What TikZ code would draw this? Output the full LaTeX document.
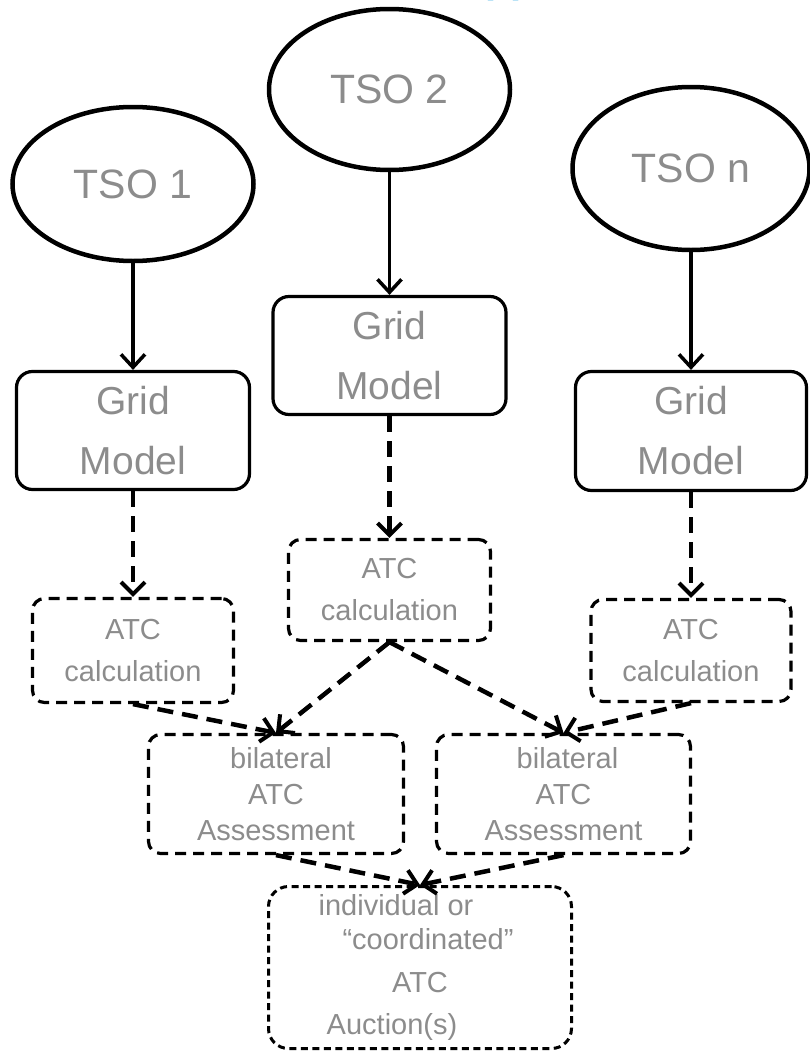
\documentclass[tikz,border=0pt]{standalone}
\usepackage{fontspec}
\setmainfont{Liberation Sans}
\usetikzlibrary{shapes.geometric,arrows.meta}
\definecolor{txtgray}{HTML}{8C8C8C}
\definecolor{titleblue}{HTML}{1BA1E2}
\begin{document}
\begin{tikzpicture}[x=1pt,y=-1pt,
  tso/.style={ellipse,draw,line width=4.5pt,inner sep=0pt,text=txtgray,
    font=\fontsize{41}{48}\selectfont},
  gridbox/.style={draw,rounded corners=16pt,line width=3.2pt,inner sep=0pt,
    text=txtgray,align=center,font=\fontsize{39}{60}\selectfont},
  atcbox/.style={draw,dash pattern=on 11pt off 7pt,rounded corners=12pt,
    line width=3.2pt,inner sep=0pt,text=txtgray,align=center,
    font=\fontsize{29}{42}\selectfont},
  bilbox/.style={atcbox,font=\fontsize{29}{36}\selectfont},
  aucbox/.style={draw,dash pattern=on 7pt off 4.5pt,rounded corners=20pt,
    line width=3pt,inner sep=0pt,text=txtgray,align=center,
    font=\fontsize{29}{34}\selectfont},
  solidarrow/.style={line width=3.5pt,
    -{Straight Barb[length=13pt,width=24pt,line width=3.5pt]}},
  dasharrow/.style={line width=4.5pt,dash pattern=on 16pt off 9pt,
    -{Straight Barb[length=12pt,width=24pt,line width=4pt]}}
]
\useasboundingbox (0,0) rectangle (810,1052);

% partly visible title
\node[anchor=base west,inner sep=0pt,text=titleblue,
  font=\fontsize{40}{48}\selectfont\bfseries] (title) at (485.5,-7) {pp};

% TSOs
\node[tso,minimum width=241pt,minimum height=154pt] (tso1) at (133,184) {TSO 1};
\node[tso,minimum width=241pt,minimum height=161pt] (tso2) at (389.5,89.5) {TSO 2};
\node[tso,minimum width=237pt,minimum height=163pt] (tson) at (691,168.5) {TSO n};

% Grid models
\node[gridbox,minimum width=233pt,minimum height=118pt] (grid1) at (133,430.5) {Grid\\Model};
\node[gridbox,minimum width=233pt,minimum height=118pt] (grid2) at (389.5,355.5) {Grid\\Model};
\node[gridbox,minimum width=231pt,minimum height=119pt] (gridn) at (691,431) {Grid\\Model};

% ATC calculations
\node[atcbox,minimum width=201pt,minimum height=104pt] (atc1) at (133,650.5) {ATC\\calculation};
\node[atcbox,minimum width=202pt,minimum height=101pt] (atc2) at (389.5,590) {ATC\\calculation};
\node[atcbox,minimum width=200pt,minimum height=102pt] (atcn) at (691,650.5) {ATC\\calculation};

% bilateral assessments
\node[bilbox,minimum width=255pt,minimum height=119pt] (bil1) at (276,794)
  {\hspace*{10pt}bilateral\\ATC\\Assessment};
\node[bilbox,minimum width=254pt,minimum height=119pt] (bil2) at (563.5,794)
  {\hspace*{8pt}bilateral\\ATC\\Assessment};

% auctions
\node[aucbox,minimum width=303pt,minimum height=162pt] (auc) at (420,967.5)
  {individual or\hspace*{48pt}\\\hspace*{16pt}“coordinated”\\[9pt]ATC\hspace*{54pt}\\[8pt]Auction(s)\hspace*{56pt}};

% connectors
\draw[solidarrow] (tso1) -- (grid1);
\draw[solidarrow] (tso2) -- (grid2);
\draw[solidarrow] (tson) -- (gridn);
\draw[dasharrow] (grid1) -- (atc1);
\draw[dasharrow] (grid2) -- (atc2);
\draw[dasharrow] (gridn) -- (atcn);
\draw[dasharrow] (atc1.south) -- (bil1.north);
\draw[dasharrow] (atc2.south) -- (bil1.north);
\draw[dasharrow] (atc2.south) -- (bil2.north);
\draw[dasharrow] (atcn.south) -- (bil2.north);
\draw[dasharrow] (bil1.south) -- (auc.north);
\draw[dasharrow] (bil2.south) -- (auc.north);
\end{tikzpicture}
\end{document}
